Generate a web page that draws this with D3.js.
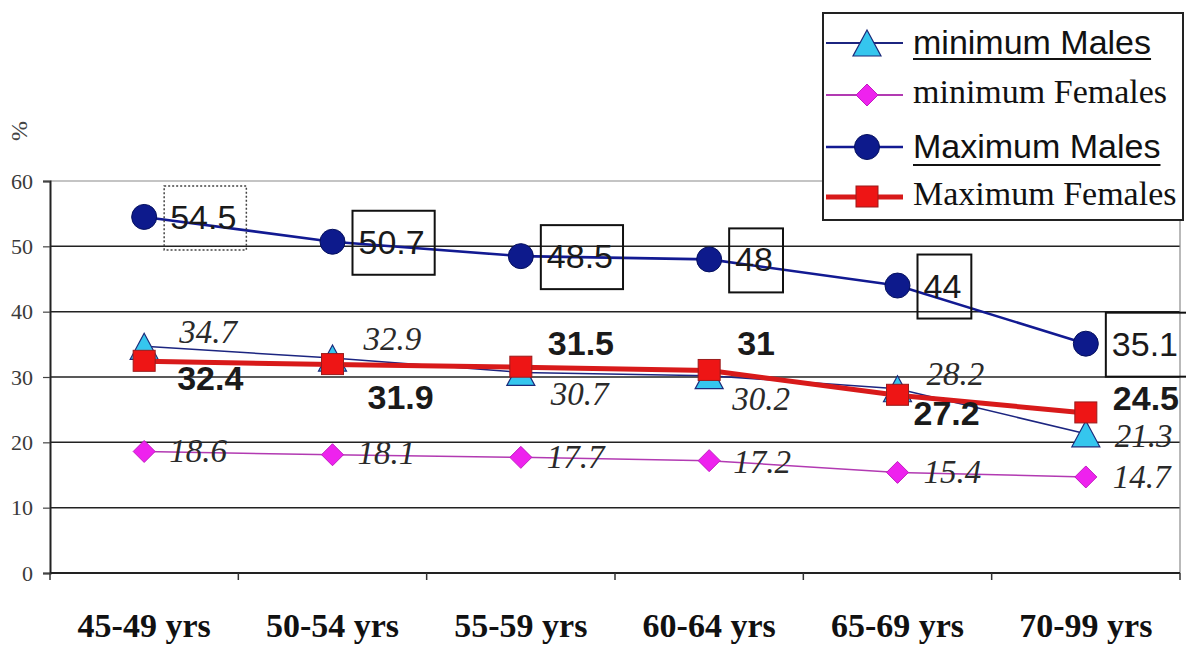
<!DOCTYPE html>
<html>
<head>
<meta charset="utf-8">
<script src="https://cdn.jsdelivr.net/npm/d3@7"></script>
<style>
  html, body { margin: 0; padding: 0; background: #fff; }
  svg { display: block; }
</style>
</head>
<body>
<svg id="chart" width="1186" height="646"></svg>
<script>
// Age groups along the x axis
const categories = ["45-49 yrs", "50-54 yrs", "55-59 yrs", "60-64 yrs", "65-69 yrs", "70-99 yrs"];

// Percentages per series
const minMales     = [34.7, 32.9, 30.7, 30.2, 28.2, 21.3];
const minFemales   = [18.6, 18.1, 17.7, 17.2, 15.4, 14.7];
const maxMales     = [54.5, 50.7, 48.5, 48, 44, 35.1];
const maxFemales   = [32.4, 31.9, 31.5, 31, 27.2, 24.5];

const yTicks = [0, 10, 20, 30, 40, 50, 60];

// Label placement relative to each point: [dx to text start, dy to baseline]
const minMalesLabelOffset   = [[35, -3], [31, -8], [30, 33], [23, 34], [29, -4], [29, 13]];
const minFemalesLabelOffset = [[25, 11], [25, 9], [26, 11], [24, 12], [26, 11], [27, 11]];
const maxFemalesLabelOffset = [[33, 29], [35, 44], [27, -12], [28, -15], [16, 30], [27, -3]];

const svg = d3.select("#chart");
const plotLeft = 50, plotRight = 1180, plotTop = 181, plotBottom = 573;

const x = d3.scaleBand().domain(categories).range([plotLeft, plotRight]);
const y = d3.scaleLinear().domain([0, 60]).range([plotBottom, plotTop]);
const cx = c => x(c) + x.bandwidth() / 2;

// Horizontal gridlines
svg.append("g").selectAll("line").data(yTicks.filter(t => t > 0 && t < 60)).join("line")
  .attr("x1", plotLeft).attr("x2", plotRight)
  .attr("y1", d => y(d)).attr("y2", d => y(d))
  .attr("stroke", "#222").attr("stroke-width", 1.5);

// Plot area border (top and right)
svg.append("line").attr("x1", plotLeft).attr("x2", plotRight).attr("y1", y(60)).attr("y2", y(60))
  .attr("stroke", "#8a8a8a").attr("stroke-width", 1.2);
svg.append("line").attr("x1", plotRight).attr("x2", plotRight).attr("y1", y(60)).attr("y2", plotBottom)
  .attr("stroke", "#8a8a8a").attr("stroke-width", 1.2);

// Y axis
const yAxis = svg.append("g").attr("transform", `translate(${plotLeft},0)`)
  .call(d3.axisLeft(y).tickValues(yTicks).tickSize(7).tickPadding(10).tickFormat(d3.format("d")));
yAxis.select(".domain").attr("stroke", "#222").attr("stroke-width", 2);
yAxis.selectAll(".tick line").attr("stroke", "#444").attr("stroke-width", 1.2);
yAxis.selectAll(".tick text")
  .attr("font-family", "'Liberation Serif', 'Times New Roman', serif")
  .attr("font-size", 22).attr("fill", "#3a3a3a").attr("dy", "0.33em");

// X axis: ticks at category boundaries
svg.append("line").attr("x1", plotLeft).attr("x2", plotRight).attr("y1", plotBottom).attr("y2", plotBottom)
  .attr("stroke", "#222").attr("stroke-width", 2);
const bounds = categories.map(c => x(c)).concat([plotRight]);
svg.append("g").selectAll("line").data(bounds).join("line")
  .attr("x1", d => d).attr("x2", d => d).attr("y1", plotBottom).attr("y2", plotBottom + 7)
  .attr("stroke", "#333").attr("stroke-width", 1.5);
svg.append("g").selectAll("text").data(categories).join("text")
  .attr("x", d => cx(d)).attr("y", 637)
  .attr("text-anchor", "middle")
  .attr("font-family", "'Liberation Serif', 'Times New Roman', serif")
  .attr("font-weight", "bold").attr("font-size", 34).attr("fill", "#111")
  .text(d => d);

// Unit label
svg.append("text").attr("transform", "translate(27,131) rotate(-90)")
  .attr("text-anchor", "middle")
  .attr("font-family", "'Liberation Serif', serif").attr("font-size", 24).attr("fill", "#444")
  .text("%");

// Marker shapes
const markers = {
  triangle: g => g.append("path").attr("d", "M0,-13L14,13L-14,13Z")
    .attr("fill", "#35c6ee").attr("stroke", "#1b2a7a").attr("stroke-width", 1.2),
  diamond: g => g.append("path").attr("d", "M0,-11L11,0L0,11L-11,0Z")
    .attr("fill", "#ee22ee").attr("stroke", "#c01cc0").attr("stroke-width", 1),
  circle: g => g.append("circle").attr("r", 12.5)
    .attr("fill", "#0d1a8c").attr("stroke", "#05105e").attr("stroke-width", 1),
  square: g => g.append("rect").attr("x", -11).attr("y", -11).attr("width", 22).attr("height", 21)
    .attr("fill", "#ee1515").attr("stroke", "#9a1b1b").attr("stroke-width", 1)
};

const series = [
  { name: "minimum Males", values: minMales, color: "#1c2580", width: 1.5, marker: "triangle" },
  { name: "minimum Females", values: minFemales, color: "#b23ab2", width: 1.5, marker: "diamond" },
  { name: "Maximum Males", values: maxMales, color: "#121a92", width: 2.6, marker: "circle" },
  { name: "Maximum Females", values: maxFemales, color: "#d81a1a", width: 5, marker: "square" }
];

const line = d3.line().x((d, i) => cx(categories[i])).y(d => y(d));

series.forEach(s => {
  const g = svg.append("g");
  g.append("path").datum(s.values).attr("d", line)
    .attr("fill", "none").attr("stroke", s.color).attr("stroke-width", s.width)
    .attr("stroke-linejoin", "round");
  s.values.forEach((v, i) => {
    const m = g.append("g").attr("transform", `translate(${cx(categories[i])},${y(v)})`);
    markers[s.marker](m);
  });
});

// Data labels
const labelLayer = svg.append("g");

function plainLabels(values, offsets, font) {
  labelLayer.append("g").selectAll("text").data(values).join("text")
    .attr("x", (d, i) => cx(categories[i]) + offsets[i][0])
    .attr("y", (d, i) => y(d) + offsets[i][1])
    .attr("font-family", font.family).attr("font-size", font.size)
    .attr("font-style", font.style || "normal").attr("font-weight", font.weight || "normal")
    .attr("fill", font.fill)
    .text(d => d);
}

plainLabels(minMales, minMalesLabelOffset,
  { family: "'Liberation Serif', 'Times New Roman', serif", size: 33, style: "italic", fill: "#2a2a2a" });
plainLabels(minFemales, minFemalesLabelOffset,
  { family: "'Liberation Serif', 'Times New Roman', serif", size: 33, style: "italic", fill: "#2a2a2a" });
plainLabels(maxFemales, maxFemalesLabelOffset,
  { family: "'Liberation Sans', Arial, sans-serif", size: 34, weight: "bold", fill: "#1a1a1a" });

// Boxed labels for maximum males
maxMales.forEach((v, i) => {
  const px = cx(categories[i]), py = y(v);
  const g = labelLayer.append("g");
  const t = g.append("text")
    .attr("x", px + 26).attr("y", py + 12)
    .attr("font-family", "'Liberation Sans', Arial, sans-serif")
    .attr("font-size", 34).attr("fill", "#1a1a1a")
    .text(v);
  const w = t.node().getComputedTextLength();
  g.insert("rect", "text")
    .attr("x", px + 20).attr("y", py - 31)
    .attr("width", w + 16).attr("height", 64)
    .attr("fill", "none")
    .attr("stroke", i === 0 ? "#444" : "#111")
    .attr("stroke-width", i === 0 ? 1.5 : 2)
    .attr("stroke-dasharray", i === 0 ? "2,2" : null);
});

// Legend
const legend = svg.append("g");
legend.append("rect").attr("x", 823).attr("y", 13).attr("width", 360).attr("height", 207)
  .attr("fill", "#fff").attr("stroke", "#222").attr("stroke-width", 2);

const legendRows = [
  { s: series[0], cy: 43, base: 54, font: "'Liberation Sans', Arial, sans-serif", underline: 59 },
  { s: series[1], cy: 95, base: 103, font: "'Liberation Serif', 'Times New Roman', serif" },
  { s: series[2], cy: 147, base: 158, font: "'Liberation Sans', Arial, sans-serif", underline: 165 },
  { s: series[3], cy: 197, base: 205, font: "'Liberation Serif', 'Times New Roman', serif" }
];

legendRows.forEach(r => {
  legend.append("line").attr("x1", 826).attr("x2", 903).attr("y1", r.cy).attr("y2", r.cy)
    .attr("stroke", r.s.color).attr("stroke-width", Math.max(r.s.width, 2));
  markers[r.s.marker](legend.append("g").attr("transform", `translate(867,${r.cy})`));
  const t = legend.append("text").attr("x", 913).attr("y", r.base)
    .attr("font-family", r.font).attr("font-size", 34).attr("fill", "#111")
    .text(r.s.name);
  if (r.underline) {
    const w = t.node().getComputedTextLength();
    legend.append("line").attr("x1", 913).attr("x2", 913 + w)
      .attr("y1", r.underline).attr("y2", r.underline)
      .attr("stroke", "#111").attr("stroke-width", 2);
  }
});
</script>
</body>
</html>
